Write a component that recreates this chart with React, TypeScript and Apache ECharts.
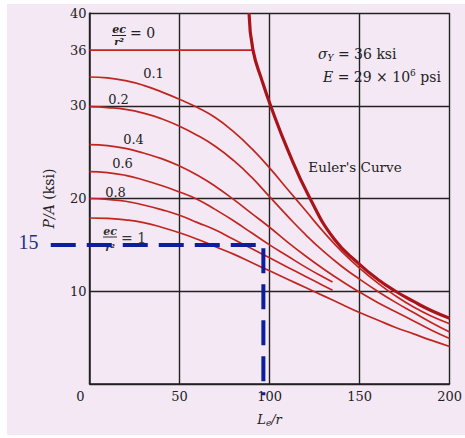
import React, { useEffect, useRef } from "react";
import * as echarts from "echarts";

// Slenderness ratio Le/r (x) and P/A in ksi (y)
const xLe = [0, 10, 20, 30, 40, 50, 60, 70, 80, 90, 100, 110, 120, 130, 140, 150, 160, 170, 180, 190, 200];
const ec01 = [33.1, 33.0, 32.7, 32.2, 31.5, 30.7, 29.8, 28.7, 27.2, 25.4, 23.3, 21.0, 18.7, 16.4, 14.3, 12.5, 10.9, 9.5, 8.3, 7.3, 6.5];
const ec02 = [29.9, 29.8, 29.6, 29.2, 28.6, 27.8, 26.8, 25.6, 24.1, 22.3, 20.2, 18.1, 16.1, 14.3, 12.7, 11.3, 10.0, 8.8, 7.7, 6.6, 5.6];
const ec04 = [25.8, 25.7, 25.4, 24.9, 24.3, 23.5, 22.5, 21.3, 19.9, 18.4, 16.9, 15.3, 13.8, 12.4, 11.1, 9.9, 8.8, 7.8, 6.8, 5.8, 4.9];
const ec10 = [17.9, 17.85, 17.7, 17.4, 16.9, 16.3, 15.6, 14.8, 14.0, 13.1, 12.2, 11.3, 10.4, 9.5, 8.6, 7.7, 6.9, 6.1, 5.4, 4.7, 4.05];
const xShort = [0, 10, 20, 30, 40, 50, 60, 70, 80, 90, 100, 110, 120, 130, 135];
const ec06 = [22.9, 22.8, 22.5, 22.0, 21.4, 20.7, 19.9, 18.8, 17.6, 16.3, 15.0, 13.8, 12.6, 11.5, 11.0];
const ec08 = [20.0, 19.9, 19.7, 19.3, 18.8, 18.2, 17.4, 16.6, 15.6, 14.6, 13.6, 12.6, 11.6, 10.6, 10.1];
const ec0X = [0, 90.8];
const ec0Y = [36, 36];
const eulerX = [88.6, 90.8, 96, 100.6, 110, 122, 136, 150, 160, 170, 180, 190, 200];
const eulerY = [40, 36, 32.6, 30, 25.3, 20.2, 15.6, 12.9, 11.3, 10.0, 8.9, 7.9, 7.1];
const xTicks = [0, 50, 100, 150, 200];
const yTickLabels = [10, 20, 30, 36, 40];
const markerX = [-21.1, 94.7, 94.7];
const markerY = [15, 15, -1.2];
const curveLabels = ["0.1", "0.2", "0.4", "0.6", "0.8"];

const SERIF = "DejaVu Serif";
const RED = "#c0261f";

// main plot box (pixels)
const G = { left: 89.5, top: 13, right: 8.3, bottom: 54, width: 465, height: 438 };
const X_MIN = 0, X_MAX = 200, Y_MIN = 0, Y_MAX = 40;

function pairs(xs: number[], ys: number[]) {
  return xs.map((x, i) => [x, ys[i]]);
}

export default function App() {
  const ref = useRef<HTMLDivElement>(null);
  useEffect(() => {
    if (!ref.current) return;
    const chart = echarts.init(ref.current, null, { renderer: "svg" });
    // a second, hidden grid sharing the same scale but extending beyond the axes (for the guide line)
    const plotW = G.width - G.left - G.right;
    const plotH = G.height - G.top - G.bottom;
    const mxMin = Math.min(...markerX);
    const myMin = Math.min(...markerY);
    const g2left = G.left + ((mxMin - X_MIN) / (X_MAX - X_MIN)) * plotW;
    const g2bottom = G.bottom + ((myMin - Y_MIN) / (Y_MAX - Y_MIN)) * plotH;

    const thin = (name: string, data: number[][]) => ({
      name,
      type: "line",
      data,
      smooth: 0.5,
      showSymbol: false,
      symbol: "none",
      lineStyle: { color: RED, width: 1.7 },
      z: 3,
    });
    const labelPos = [
      [153.5, 73],
      [118.5, 99.5],
      [133.5, 139],
      [122.5, 163],
      [115.5, 192],
    ];
    const labelTexts = curveLabels.map((t, i) => ({
      type: "text",
      x: labelPos[i][0],
      y: labelPos[i][1],
      style: {
        text: t,
        font: `13px '${SERIF}'`,
        fill: "#222",
        textAlign: "center",
        textVerticalAlign: "middle",
      },
    }));
    chart.setOption({
      animation: false,
      grid: [
        { left: G.left, top: G.top, right: G.right, bottom: G.bottom, containLabel: false },
        { left: g2left, top: G.top, right: G.right, bottom: g2bottom, containLabel: false },
      ],
      xAxis: [
        {
          type: "value",
          min: X_MIN,
          max: X_MAX,
          interval: 50,
          axisLine: { show: true, lineStyle: { color: "#222", width: 1.5 } },
          axisTick: { show: false },
          splitLine: { show: true, lineStyle: { color: "#222", width: 1.4 } },
          axisLabel: {
            margin: 6,
            color: "#222",
            fontFamily: SERIF,
            fontSize: 13,
            formatter: (v: number) => (xTicks.includes(v) ? (v === 0 ? "{z|0}" : String(v)) : ""),
            rich: { z: { padding: [0, 18, 0, 0], fontFamily: SERIF, fontSize: 13, color: "#222" } },
          },
          name: "{a|L}{b|e}{a|/r}",
          nameLocation: "middle",
          nameGap: 28,
          nameTextStyle: {
            rich: {
              a: { fontFamily: SERIF, fontStyle: "italic", fontSize: 13, color: "#222" },
              b: { fontFamily: SERIF, fontStyle: "italic", fontSize: 9, color: "#222", padding: [6, 0, 0, 0] },
            },
          },
        },
        { type: "value", gridIndex: 1, min: mxMin, max: X_MAX, show: false },
      ],
      yAxis: [
        {
          type: "value",
          min: Y_MIN,
          max: Y_MAX,
          interval: 10,
          axisLine: { show: true, lineStyle: { color: "#222", width: 1.5 } },
          axisTick: { show: false },
          axisLabel: { show: false },
          splitLine: { show: true, lineStyle: { color: "#222", width: 1.4 } },
          name: "{i|P/A} (ksi)",
          nameLocation: "middle",
          nameGap: 34,
          nameTextStyle: {
            fontFamily: SERIF,
            fontSize: 14,
            color: "#222",
            rich: { i: { fontFamily: SERIF, fontStyle: "italic", fontSize: 14, color: "#222" } },
          },
        },
        {
          type: "value",
          min: Y_MIN,
          max: Y_MAX,
          interval: 2,
          position: "left",
          axisLine: { show: false },
          axisTick: { show: false },
          splitLine: { show: false },
          axisLabel: {
            margin: 3,
            color: "#222",
            fontFamily: SERIF,
            fontSize: 13,
            formatter: (v: number) => (yTickLabels.includes(v) ? String(v) : ""),
          },
        },
        { type: "value", gridIndex: 1, min: myMin, max: Y_MAX, show: false },
      ],
      series: [
        {
          name: "ec0",
          type: "line",
          data: pairs(ec0X, ec0Y),
          showSymbol: false,
          symbol: "none",
          lineStyle: { color: RED, width: 1.7 },
          z: 3,
        },
        thin("0.1", pairs(xLe, ec01)),
        thin("0.2", pairs(xLe, ec02)),
        thin("0.4", pairs(xLe, ec04)),
        thin("0.6", pairs(xShort, ec06)),
        thin("0.8", pairs(xShort, ec08)),
        thin("1", pairs(xLe, ec10)),
        {
          name: "Euler",
          type: "line",
          data: pairs(eulerX, eulerY),
          smooth: 0.5,
          showSymbol: false,
          symbol: "none",
          lineStyle: { color: "#a8141a", width: 3.2 },
          z: 4,
        },
        {
          name: "marker",
          type: "line",
          xAxisIndex: 1,
          yAxisIndex: 2,
          data: pairs(markerX, markerY),
          clip: false,
          showSymbol: false,
          symbol: "none",
          lineStyle: { color: "#0d1d9c", width: 4, type: [25, 11], cap: "butt" },
          z: 6,
        },
      ],
      graphic: [
        // ec/r^2 = 0
        { type: "text", x: 119, y: 29.5, style: { text: "ec", font: `italic bold 11px '${SERIF}'`, fill: "#222", textAlign: "center", textVerticalAlign: "middle" } },
        { type: "line", shape: { x1: 112, y1: 35.5, x2: 126, y2: 35.5 }, style: { stroke: "#222", lineWidth: 1 } },
        { type: "text", x: 119, y: 41.5, style: { text: "r²", font: `italic bold 10px '${SERIF}'`, fill: "#222", textAlign: "center", textVerticalAlign: "middle" } },
        { type: "text", x: 130, y: 33, style: { text: "= 0", font: `14px '${SERIF}'`, fill: "#222", textAlign: "left", textVerticalAlign: "middle" } },
        // ec/r^2 = 1
        { type: "text", x: 110, y: 231, style: { text: "ec", font: `italic bold 11px '${SERIF}'`, fill: "#333", textAlign: "center", textVerticalAlign: "middle" } },
        { type: "line", shape: { x1: 103, y1: 237, x2: 117, y2: 237 }, style: { stroke: "#333", lineWidth: 1 } },
        { type: "text", x: 110, y: 247, style: { text: "r²", font: `italic bold 10px '${SERIF}'`, fill: "#333", textAlign: "center", textVerticalAlign: "middle" } },
        { type: "text", x: 121, y: 237.5, style: { text: "= 1", font: `14px '${SERIF}'`, fill: "#333", textAlign: "left", textVerticalAlign: "middle" } },
        ...labelTexts,
        {
          type: "text",
          x: 318,
          y: 54,
          style: {
            text: "{i|σ}{s|Y}{n| = 36 ksi}",
            textVerticalAlign: "middle",
            rich: {
              i: { font: `italic 14px '${SERIF}'`, fill: "#222" },
              s: { font: `italic 9px '${SERIF}'`, fill: "#222", padding: [7, 0, 0, 0] },
              n: { font: `14px '${SERIF}'`, fill: "#222" },
            },
          },
        },
        {
          type: "text",
          x: 323,
          y: 77,
          style: {
            text: "{i|E}{n| = 29 × 10}{p|6}{n| psi}",
            textVerticalAlign: "middle",
            rich: {
              i: { font: `italic 14px '${SERIF}'`, fill: "#222" },
              p: { font: `9px '${SERIF}'`, fill: "#222", padding: [0, 0, 9, 0] },
              n: { font: `14px '${SERIF}'`, fill: "#222" },
            },
          },
        },
        {
          type: "text",
          x: 355,
          y: 166.5,
          style: { text: "Euler's Curve", font: `13.5px '${SERIF}'`, fill: "#222", textAlign: "center", textVerticalAlign: "middle" },
        },
        {
          type: "text",
          x: 28.5,
          y: 242,
          style: { text: "15", font: `20px 'Liberation Serif'`, fill: "#1d3283", textAlign: "center", textVerticalAlign: "middle" },
        },
      ],
    });
    return () => chart.dispose();
  }, []);
  return (
    <div style={{ position: "fixed", left: 0, top: 0, width: 465, height: 438, background: "#ffffff" }}>
      <div style={{ position: "absolute", left: 7, top: 4, width: 458, height: 431, background: "#f4e8f4" }} />
      <div ref={ref} style={{ position: "absolute", left: 0, top: 0, width: 465, height: 438 }} />
    </div>
  );
}
